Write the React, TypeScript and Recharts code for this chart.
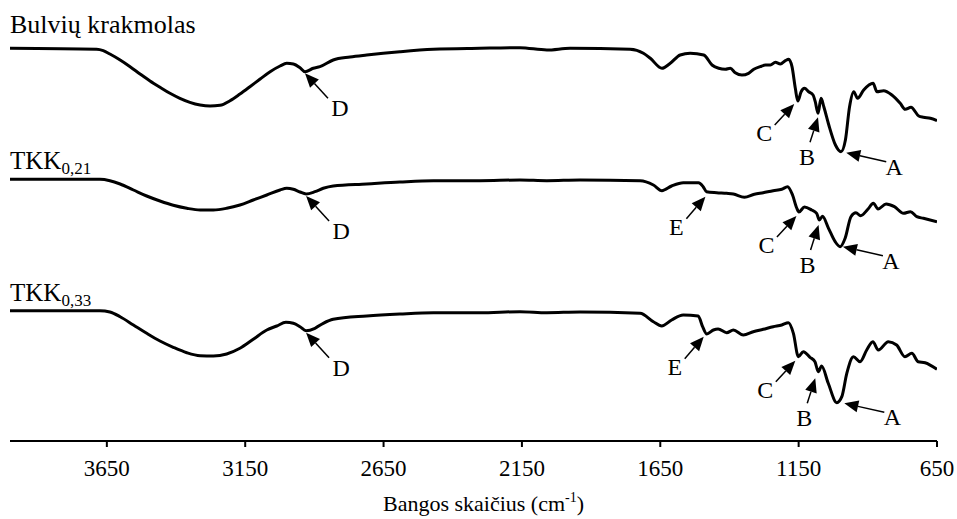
import React from 'react'
import { LineChart, Line, XAxis, YAxis, ReferenceDot } from 'recharts'

const FONT = '"Liberation Serif", "Times New Roman", serif'

const X_TICKS = [3650, 3150, 2650, 2150, 1650, 1150, 650]

// [wavenumber cm-1, offset transmittance (arb. units)]
const STARCH: [number, number][] = [
  [4000, 392.7], [3687, 391.7], [3663, 390.3], [3639, 387], [3602, 381], [3566, 374.3],
  [3530, 367], [3494, 360], [3458, 353.7], [3422, 347.7], [3386, 342.7], [3350, 338.7],
  [3313, 336], [3277, 335], [3241, 335.7], [3205, 340.3], [3169, 347], [3133, 354.3],
  [3096, 362], [3060, 369.3], [3024, 375], [3000, 377.7], [2976, 377], [2952, 373.3],
  [2934, 369.3], [2904, 372.7], [2880, 374.3], [2832, 381], [2771, 384], [2711, 386],
  [2591, 389.3], [2470, 391.7], [2302, 392.7], [2157, 393.3], [2060, 391], [1976, 392.7],
  [1759, 391.7], [1711, 387.7], [1686, 382.7], [1644, 372.7], [1614, 377.7], [1578, 386],
  [1542, 387.7], [1493, 386], [1463, 376], [1439, 372.7], [1415, 371.7], [1397, 372.7],
  [1379, 368.3], [1355, 366], [1331, 367.7], [1312, 371.7], [1289, 374.3], [1270, 376],
  [1252, 376], [1234, 378.7], [1216, 377], [1198, 380.3], [1186, 381.7], [1174, 374.3],
  [1162, 352.7], [1153, 340], [1141, 349.3], [1129, 352.7], [1114, 349.3], [1098, 346],
  [1090, 339.3], [1080, 327.7], [1069, 342.7], [1059, 334.3], [1041, 316], [1017, 296],
  [997, 289.3], [981, 301], [966, 334.3], [951, 349.3], [937, 342.7], [915, 351],
  [881, 357.7], [867, 349.3], [843, 350.3], [813, 346], [783, 337.7], [765, 331.7],
  [744, 333.7], [716, 325], [699, 323.7], [674, 322.7], [650, 320.3],
]

const TKK_021: [number, number][] = [
  [4000, 261.7], [3675, 261.7], [3639, 260.3], [3602, 257], [3554, 251], [3506, 245],
  [3458, 240], [3410, 235.7], [3361, 232.7], [3313, 231], [3265, 231], [3217, 232.7],
  [3169, 236], [3121, 241], [3072, 246], [3024, 251], [3000, 252.7], [2976, 251.7],
  [2952, 249], [2930, 247], [2898, 249.3], [2868, 252.7], [2832, 255], [2711, 257],
  [2591, 259], [2470, 260.3], [2302, 260.3], [2157, 261], [2060, 260.3], [1940, 261],
  [1723, 260.3], [1675, 256], [1644, 250.3], [1609, 255], [1567, 258.3], [1512, 258.3],
  [1495, 254.3], [1483, 249.3], [1446, 248.3], [1410, 247.7], [1386, 247], [1346, 243.7],
  [1310, 246.7], [1278, 248.3], [1242, 250.3], [1211, 251.7], [1190, 254.3], [1172, 246],
  [1157, 233], [1149, 229], [1129, 234], [1103, 231], [1085, 227.7], [1075, 221],
  [1064, 224.7], [1042, 212.7], [1018, 199.3], [1000, 194.3], [982, 202.7], [961, 224.3],
  [943, 228.2], [926, 225.3], [900, 231.7], [880, 237.7], [863, 232], [834, 237],
  [804, 234.3], [771, 227.7], [746, 229.3], [723, 224.3], [699, 222.7], [650, 219.3],
]

const TKK_033: [number, number][] = [
  [4000, 130.3], [3675, 130.3], [3639, 129], [3602, 124.3], [3554, 116], [3506, 107.7],
  [3458, 100], [3410, 93.7], [3361, 88.3], [3313, 85.3], [3265, 85], [3217, 87],
  [3169, 92.7], [3121, 101.7], [3072, 111], [3036, 115], [3003, 118.7], [2976, 117.7],
  [2952, 114.3], [2930, 110.3], [2898, 112.7], [2868, 117.7], [2832, 121.7], [2711, 125],
  [2591, 127], [2470, 128.3], [2302, 128.3], [2157, 129.3], [2060, 128.3], [1940, 129],
  [1723, 127.7], [1675, 119.3], [1645, 115], [1609, 121], [1567, 126], [1513, 125],
  [1497, 114.3], [1482, 107], [1458, 111], [1441, 112], [1410, 108.3], [1386, 111],
  [1350, 106], [1314, 109.3], [1278, 111.7], [1242, 114.3], [1211, 116], [1187, 118.3],
  [1169, 107.7], [1151, 84.3], [1133, 89.3], [1109, 83.7], [1091, 79.3], [1079, 69.3],
  [1067, 75], [1043, 57.7], [1012, 38.3], [994, 44.3], [976, 67.7], [952, 84.3],
  [928, 79.3], [904, 91], [882, 99.3], [862, 91], [826, 99.3], [796, 96], [766, 84.3],
  [741, 87.7], [718, 79.3], [693, 78.3], [650, 71.7],
]

// arrow tips: [mark, wavenumber, value]
const STARCH_PEAKS: [string, number, number][] = [
  ['D', 2934, 367.7], ['C', 1166, 337], ['B', 1080, 323.7], ['A', 978, 288.3],
]
const TKK_021_PEAKS: [string, number, number][] = [
  ['D', 2930, 245], ['E', 1487, 244.3], ['C', 1158, 225], ['B', 1078, 216], ['A', 990, 194.3],
]
const TKK_033_PEAKS: [string, number, number][] = [
  ['D', 2930, 108.3], ['E', 1493, 104.3], ['C', 1162, 80.3], ['B', 1090, 62.7], ['A', 985, 37.7],
]

const SERIES = [
  { key: 'starch', name: 'Bulvių krakmolas', sub: '', points: STARCH, peaks: STARCH_PEAKS },
  { key: 'tkk021', name: 'TKK', sub: '0,21', points: TKK_021, peaks: TKK_021_PEAKS },
  { key: 'tkk033', name: 'TKK', sub: '0,33', points: TKK_033, peaks: TKK_033_PEAKS },
]

// pixel offsets from the arrow tip
const ARROW_LAYOUT: Record<string, { tail: [number, number]; text: [number, number] }> = {
  A: { tail: [40, 9], text: [48, 14] },
  B: { tail: [-8, 25], text: [-11, 40] },
  C: { tail: [-19.5, 21], text: [-30, 29] },
  D: { tail: [23, 25], text: [35, 35] },
  E: { tail: [-19, 22], text: [-29, 30] },
}
const LABEL_DY = [-15, -10, -10]

function PeakArrow({ cx, cy, mark }: { cx?: number; cy?: number; mark: string }) {
  if (cx == null || cy == null) return null
  const { tail, text } = ARROW_LAYOUT[mark]
  const tx = cx + tail[0]
  const ty = cy + tail[1]
  const len = Math.hypot(cx - tx, cy - ty)
  const ux = (cx - tx) / len
  const uy = (cy - ty) / len
  const head = 14
  const half = 6
  const bx = cx - ux * head
  const by = cy - uy * head
  const pts = `${cx},${cy} ${bx - uy * half},${by + ux * half} ${bx + uy * half},${by - ux * half}`
  return (
    <g>
      <line x1={tx} y1={ty} x2={bx} y2={by} stroke="#000" strokeWidth={1.5} />
      <polygon points={pts} fill="#000" />
      <text
        x={cx + text[0]}
        y={cy + text[1]}
        dy="0.33em"
        textAnchor="middle"
        fontFamily={FONT}
        fontSize={24}
        fill="#000"
      >
        {mark}
      </text>
    </g>
  )
}

function SeriesLabel({ cx, cy, name, sub, dy }: { cx?: number; cy?: number; name: string; sub: string; dy: number }) {
  if (cx == null || cy == null) return null
  return (
    <text x={cx} y={cy + dy} fontFamily={FONT} fontSize={sub ? 25 : 26} fill="#000">
      {name}
      {sub && (
        <tspan fontSize={17} dy={5}>
          {sub}
        </tspan>
      )}
    </text>
  )
}

function AxisTitle({ viewBox }: any) {
  const { x, y, width } = viewBox
  return (
    <text x={x + width / 2 + 10} y={y + 70} textAnchor="middle" fontFamily={FONT} fontSize={22} fill="#000">
      Bangos skaičius (cm
      <tspan fontSize={14} dy={-9}>-1</tspan>
      <tspan dy={9}>)</tspan>
    </text>
  )
}

export default function App() {
  return (
    <div style={{ position: 'fixed', left: 0, top: 0, width: 957, height: 519, background: '#fff' }}>
      <LineChart width={957} height={519} margin={{ top: 0, right: 20, bottom: 0, left: 10 }}>
        <XAxis
          type="number"
          dataKey="wn"
          domain={[650, 4000]}
          reversed
          allowDataOverflow
          ticks={X_TICKS}
          interval={0}
          height={78}
          tickSize={6}
          tickMargin={13}
          axisLine={{ stroke: '#000', strokeWidth: 2 }}
          tickLine={{ stroke: '#000', strokeWidth: 2 }}
          tick={{ fill: '#000', fontSize: 23, fontFamily: FONT }}
          label={{ content: (p: any) => <AxisTitle {...p} /> }}
        />
        <YAxis hide type="number" domain={[0, 441]} allowDataOverflow />
        {SERIES.map((s) => (
          <Line
            key={s.key}
            data={s.points.map(([wn, v]) => ({ wn, v }))}
            dataKey="v"
            type="monotone"
            stroke="#000"
            strokeWidth={3}
            dot={false}
            activeDot={false}
            isAnimationActive={false}
          />
        ))}
        {SERIES.map((s, i) => (
          <ReferenceDot
            key={`${s.key}-label`}
            x={s.points[0][0]}
            y={s.points[0][1]}
            ifOverflow="visible"
            shape={(p: any) => <SeriesLabel cx={p.cx} cy={p.cy} name={s.name} sub={s.sub} dy={LABEL_DY[i]} />}
          />
        ))}
        {SERIES.flatMap((s) =>
          s.peaks.map(([mark, wn, v]) => (
            <ReferenceDot
              key={`${s.key}-${mark}`}
              x={wn}
              y={v}
              ifOverflow="visible"
              shape={(p: any) => <PeakArrow cx={p.cx} cy={p.cy} mark={mark} />}
            />
          ))
        )}
      </LineChart>
    </div>
  )
}
